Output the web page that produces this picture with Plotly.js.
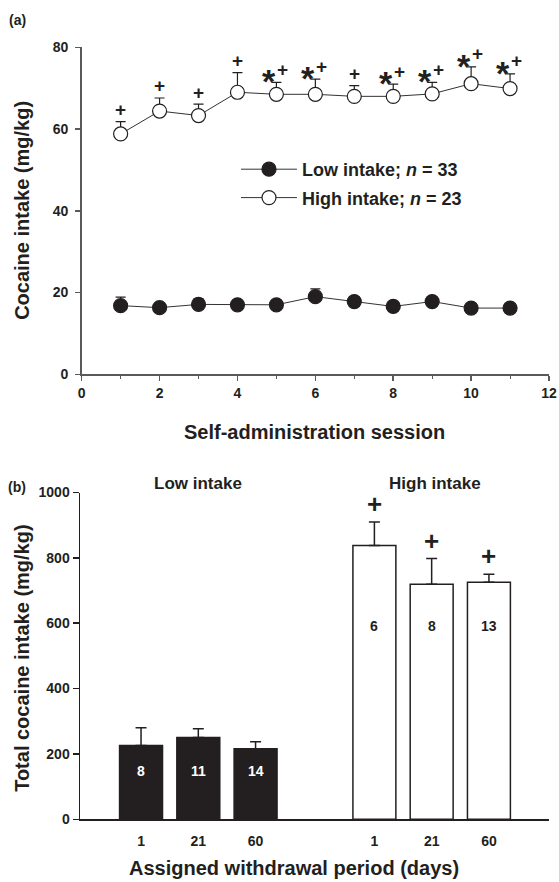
<!DOCTYPE html>
<html>
<head>
<meta charset="utf-8">
<script src="https://cdn.plot.ly/plotly-3.0.1.min.js"></script>
<style>html,body{margin:0;padding:0;background:#fff;}#chart{width:559px;height:882px;}</style>
</head>
<body>
<div id="chart"></div>
<script>
// ---------- Panel (a) data ----------
const sessions = [1, 2, 3, 4, 5, 6, 7, 8, 9, 10, 11];
const lowMean  = [16.8, 16.3, 17.1, 17.0, 17.0, 19.0, 17.8, 16.6, 17.8, 16.2, 16.2];
const lowSem   = [2.1, 0.9, 1.4, 1.0, 1.0, 1.9, 1.0, 0.8, 1.0, 0.8, 0.8];
const highMean = [58.8, 64.4, 63.3, 69.0, 68.5, 68.5, 68.0, 68.0, 68.6, 71.1, 69.9];
const highSem  = [3.0, 3.2, 2.8, 4.8, 2.9, 3.7, 2.6, 3.0, 2.8, 4.1, 3.6];
const highSig  = ['+', '+', '+', '+', '*+', '*+', '+', '*+', '*+', '*+', '*+'];
const lowName  = 'Low intake; <i>n</i> = 33';
const highName = 'High intake; <i>n</i> = 23';

// ---------- Panel (b) data ----------
const periods      = ['1', '21', '60'];
const lowTotal     = [226, 250, 216];
const lowTotalSem  = [54, 27, 21];
const lowN         = [8, 11, 14];
const highTotal    = [838, 719, 725];
const highTotalSem = [72, 79, 25];
const highN        = [6, 8, 13];
const highTotalSig = ['+', '+', '+'];

const INK = '#231f20';
const AX_A = '#5a5a5a';
const FONT = 'Liberation Sans, Arial, sans-serif';

const lowPos  = periods.map((p, i) => i + 1);
const highPos = periods.map((p, i) => i + 5.075);
const zeros = n => new Array(n).fill(0);

const traces = [
  {
    x: sessions, y: lowMean, type: 'scatter', mode: 'lines+markers', name: lowName,
    xaxis: 'x', yaxis: 'y', legendgroup: 'g1',
    line: {color: '#333', width: 1},
    marker: {symbol: 'circle', size: 14, color: INK, line: {color: INK, width: 1.2}},
    error_y: {type: 'data', symmetric: false, array: lowSem, arrayminus: zeros(lowSem.length),
              color: INK, thickness: 1.2, width: 5},
    cliponaxis: false
  },
  {
    x: sessions, y: highMean, type: 'scatter', mode: 'lines+markers', name: highName,
    xaxis: 'x', yaxis: 'y', legendgroup: 'g2',
    line: {color: '#333', width: 1},
    marker: {symbol: 'circle', size: 14, color: '#fff', line: {color: INK, width: 1.2}},
    error_y: {type: 'data', symmetric: false, array: highSem, arrayminus: zeros(highSem.length),
              color: INK, thickness: 1.2, width: 5},
    cliponaxis: false
  },
  {
    x: lowPos, y: lowTotal, type: 'bar', xaxis: 'x2', yaxis: 'y2', showlegend: false,
    width: 0.75,
    marker: {color: INK, line: {color: INK, width: 1.5}},
    error_y: {type: 'data', symmetric: false, array: lowTotalSem, arrayminus: zeros(lowTotalSem.length),
              color: INK, thickness: 1.5, width: 5.5}
  },
  {
    x: highPos, y: highTotal, type: 'bar', xaxis: 'x2', yaxis: 'y2', showlegend: false,
    width: 0.75,
    marker: {color: '#fff', line: {color: INK, width: 1.5}},
    error_y: {type: 'data', symmetric: false, array: highTotalSem, arrayminus: zeros(highTotalSem.length),
              color: INK, thickness: 1.5, width: 5.5}
  }
];

const tickFont = {family: FONT, size: 14, color: INK, weight: 'bold'};
const bold = (s, size, color) => ({family: FONT, size: size, color: color || INK, weight: 'bold'});

const annotations = [];
function addText(o) {
  annotations.push(Object.assign({showarrow: false, xanchor: 'center', yanchor: 'middle'}, o));
}
// panel letters
addText({text: '(a)', xref: 'paper', yref: 'paper', x: -0.134, y: 1 - 20 / 882, font: bold('', 14)});
addText({text: '(b)', xref: 'paper', yref: 'paper', x: -0.134, y: 1 - 487 / 882, font: bold('', 14)});
// axis titles
addText({text: 'Cocaine intake (mg/kg)', xref: 'paper', yref: 'paper', x: -0.124, y: 1 - 210 / 882,
         textangle: -90, font: bold('', 20)});
addText({text: 'Self-administration session', xref: 'paper', yref: 'paper', x: 0.501, y: 1 - 432 / 882,
         font: bold('', 20)});
addText({text: 'Total cocaine intake (mg/kg)', xref: 'paper', yref: 'paper', x: -0.124, y: 1 - 658 / 882,
         textangle: -90, font: bold('', 20)});
addText({text: 'Assigned withdrawal period (days)', xref: 'paper', yref: 'paper', x: 0.456, y: 1 - 868 / 882,
         font: bold('', 20)});
// group headers
addText({text: 'Low intake', xref: 'x2', yref: 'paper', x: lowPos[1], y: 1 - 483 / 882, font: bold('', 17)});
addText({text: 'High intake', xref: 'x2', yref: 'paper', x: highPos[1], xshift: 3, y: 1 - 483 / 882, font: bold('', 17)});
// n inside bars
lowN.forEach((n, i) => addText({text: String(n), xref: 'x2', yref: 'y2', x: lowPos[i], y: 148, font: bold('', 14, '#fff')}));
highN.forEach((n, i) => addText({text: String(n), xref: 'x2', yref: 'y2', x: highPos[i], y: 592, font: bold('', 14)}));
// significance, panel b
highTotalSig.forEach((s, i) => addText({text: s, xref: 'x2', yref: 'y2', x: highPos[i],
  y: highTotal[i] + highTotalSem[i], yshift: 18, font: bold('', 26)}));
// significance, panel a
highSig.forEach((s, i) => {
  const top = highMean[i] + highSem[i];
  if (s.indexOf('*') >= 0) {
    addText({text: '*', xref: 'x', yref: 'y', x: sessions[i], y: top, xshift: -7, yshift: 1, font: bold('', 34)});
    addText({text: '+', xref: 'x', yref: 'y', x: sessions[i], y: top, xshift: 6, yshift: 13, font: bold('', 19)});
  } else {
    addText({text: '+', xref: 'x', yref: 'y', x: sessions[i], y: top, yshift: 12, font: bold('', 19)});
  }
});

const layout = {
  width: 559, height: 882,
  margin: {l: 80, r: 10, t: 0, b: 0},
  paper_bgcolor: '#fff', plot_bgcolor: 'rgba(0,0,0,0)',
  font: {family: FONT, color: INK},
  showlegend: true,
  legend: {x: 0.3326, y: 1 - 151 / 882, xanchor: 'left', yanchor: 'top',
           bgcolor: 'rgba(0,0,0,0)', borderwidth: 0, itemwidth: 56, tracegroupgap: 2,
           font: bold('', 18)},
  xaxis: {domain: [0.0036, 1], anchor: 'y', range: [0, 12], dtick: 2, tick0: 0,
          showgrid: false, zeroline: false, showline: true, linecolor: AX_A, linewidth: 1.5,
          ticks: 'outside', ticklen: 5, tickwidth: 1.5, tickcolor: AX_A, tickfont: tickFont,
          minor: {dtick: 1, tick0: 0, ticks: 'outside', ticklen: 3, tickwidth: 1, tickcolor: AX_A, showgrid: false}},
  yaxis: {domain: [1 - 374.3 / 882, 1 - 47.3 / 882], anchor: 'x', range: [0, 80], dtick: 20,
          showgrid: false, zeroline: false, showline: true, linecolor: AX_A, linewidth: 1.5,
          ticks: 'outside', ticklen: 5, tickwidth: 1.5, tickcolor: AX_A, tickfont: tickFont,
          ticklabelstandoff: 4},
  xaxis2: {domain: [0, 1], anchor: 'y2', range: [-0.066, 8.124],
           tickvals: lowPos.concat(highPos), ticktext: periods.concat(periods),
           showgrid: false, zeroline: false, showline: true, linecolor: INK, linewidth: 1.5,
           ticks: 'outside', ticklen: 8, tickcolor: 'rgba(0,0,0,0)', tickfont: tickFont},
  yaxis2: {domain: [1 - 819.3 / 882, 1 - 492.5 / 882], anchor: 'x2', range: [0, 1000], dtick: 200,
           showgrid: false, zeroline: false, showline: true, linecolor: INK, linewidth: 1.5,
           ticks: 'outside', ticklen: 6, tickwidth: 1.5, tickcolor: INK, tickfont: tickFont},
  annotations: annotations
};

Plotly.newPlot('chart', traces, layout, {displayModeBar: false, staticPlot: true});
</script>
</body>
</html>
